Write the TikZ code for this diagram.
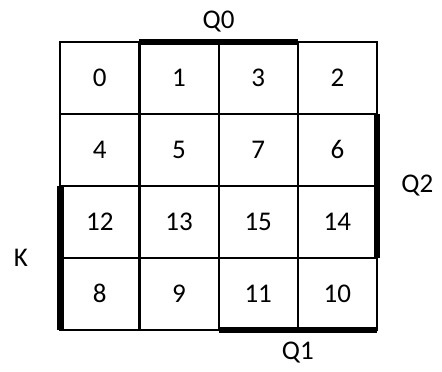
\documentclass[tikz,border=0pt]{standalone}
\usepackage{fontspec}
\setmainfont{Carlito}
\usetikzlibrary{positioning}
\tikzset{
  cell/.style={draw, rectangle, line width=1.1pt, minimum width=39.6pt, minimum height=36pt, inner sep=0pt, outer sep=0pt, font=\fontsize{13.5}{16}\selectfont},
  bar/.style={line width=3.3pt},
  lbl/.style={inner sep=0pt, font=\fontsize{13.5}{16}\selectfont}
}

\begin{document}
\begin{tikzpicture}[x=0.5pt,y=-0.5pt]
  \useasboundingbox (0,0) rectangle (442,371);
  \node[cell] (n0) at (99.8,77.8) {0};
  \node[cell] (n1) at (179,77.8) {1};
  \node[cell] (n3) at (258.2,77.8) {3};
  \node[cell] (n2) at (337.4,77.8) {2};

  \node[cell] (n4) at (99.8,149.8) {4};
  \node[cell] (n5) at (179,149.8) {5};
  \node[cell] (n7) at (258.2,149.8) {7};
  \node[cell] (n6) at (337.4,149.8) {6};

  \node[cell] (n12) at (99.8,221.8) {12};
  \node[cell] (n13) at (179,221.8) {13};
  \node[cell] (n15) at (258.2,221.8) {15};
  \node[cell] (n14) at (337.4,221.8) {14};

  \node[cell] (n8) at (99.8,293.8) {8};
  \node[cell] (n9) at (179,293.8) {9};
  \node[cell] (n11) at (258.2,293.8) {11};
  \node[cell] (n10) at (337.4,293.8) {10};

  % variable bars
  \draw[bar] (n1.north west) -- (n3.north east);
  \draw[bar] (n6.north east) -- (n14.south east);
  \draw[bar] (n12.north west) -- (n8.south west);
  \draw[bar] (n11.south west) -- (n10.south east);

  \node[lbl, above=4.5pt of n1.north east] (q0) {Q0};
  \node[lbl, right=12pt of n6.south east] (q2) {Q2};
  \node[lbl, left=16pt of n12.south west] (k) {K};
  \node[lbl, below=6pt of n11.south east] (q1) {Q1};
\end{tikzpicture}
\end{document}
